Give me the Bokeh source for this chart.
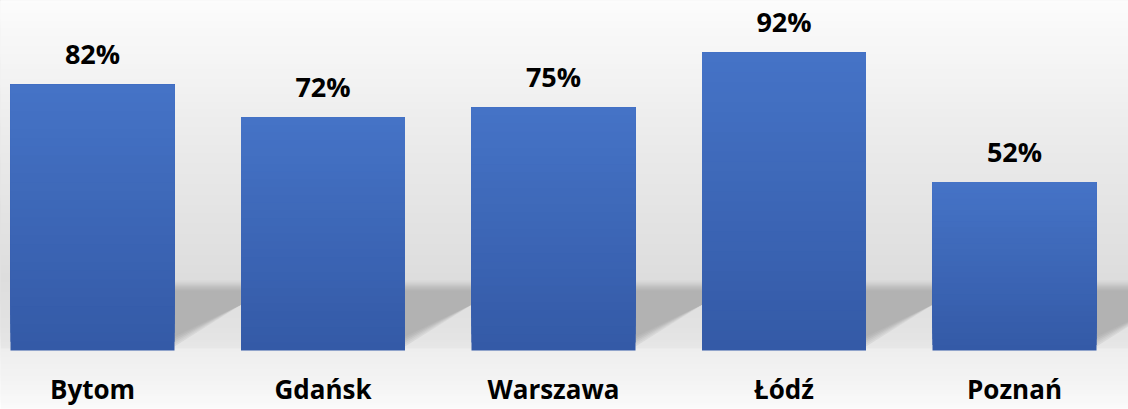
import numpy as np
from bokeh.plotting import figure
from bokeh.models import ColumnDataSource, Range1d
from bokeh.core.properties import value
from bokeh.embed import file_html
from bokeh.resources import INLINE

cities = ["Bytom", "Gdańsk", "Warszawa", "Łódź", "Poznań"]
shares = [82, 72, 75, 92, 52]
share_labels = ["82%", "72%", "75%", "92%", "52%"]

W, H = 1128, 409
STEP = 230.5          # pixels per category
C0 = 92.0             # pixel centre of first category
PPU = 3.24            # pixels per percent
BASE = 350.0          # pixel row of zero
X0, X1 = -C0 / STEP, (W - C0) / STEP
Y0, Y1 = -(H - BASE) / PPU, BASE / PPU
BAR_W = 164 / STEP

p = figure(width=W, height=H, output_backend="svg", toolbar_location=None,
           x_range=Range1d(X0, X1), y_range=Range1d(Y0, Y1), min_border=0)
p.axis.visible = False
p.grid.visible = False
p.outline_line_color = None
p.background_fill_color = "#ffffff"
p.border_fill_color = "#ffffff"


def hexc(r, g, b):
    return "#%02x%02x%02x" % (int(round(r)), int(round(g)), int(round(b)))


def py_to_y(py):
    return Y1 - py / H * (Y1 - Y0)


def px_to_x(px):
    return (px - C0) / STEP


# background vertical gradient (pixel row, gray level)
stops_py = [0, 60, 130, 200, 280, 340, 349, 351, 380, 409]
stops_g = [252, 245, 236, 229, 221, 228, 231, 238, 243, 250]
rows = np.arange(408, -1, -3)
bg_bottom, bg_col = [], []
for r in rows:
    g = np.interp(r, stops_py, stops_g)
    bg_bottom.append(py_to_y(r))
    bg_col.append(hexc(g, g, g))
p.quad(left=X0, right=X1, bottom=bg_bottom, top=Y1, fill_color=bg_col,
       line_color=None)

# soft diagonal floor shadows behind each bar
layers = [(9, 216), (7, 208), (5, 199), (3, 190), (1, 183), (-1, 178)]
for e, g in layers:
    sx, sy = [], []
    for i in range(len(shares)):
        R = C0 + STEP * i + 82  # right edge of bar i in pixels
        pts = [(R - 20, 289 - e), (R + 95 + e, 289 - e), (R + 95 + e, 290 - e),
               (R, 337 + e), (R - 20, 337 + e)]
        sx.append([px_to_x(a) for a, b in pts])
        sy.append([py_to_y(b) for a, b in pts])
    p.patches(xs=sx, ys=sy, fill_color=hexc(g, g, g), line_color=None)

# bars with vertical gradient
n = 30
c_bot = np.array([0x34, 0x5a, 0xa7])
c_top = np.array([0x45, 0x73, 0xc6])
bx, bb, bt, bc = [], [], [], []
for j in range(n):
    t = j / (n - 1)
    col = c_bot + (c_top - c_bot) * t
    for i, v in enumerate(shares):
        bx.append(i)
        bb.append(v * j / n)
        bt.append(v)
        bc.append(hexc(*col))
p.vbar(x=bx, bottom=bb, top=bt, width=BAR_W, fill_color=bc, line_color=None)

xs = list(range(len(cities)))
src = ColumnDataSource(dict(x=xs, y=shares, lab=share_labels, city=cities,
                            zero=[0] * len(cities)))
p.text(x="x", y="y", text="lab", source=src, text_align="center",
       text_baseline="alphabetic", y_offset=-31, text_font=value("Open Sans"),
       text_font_style="bold", text_font_size="27px", text_color="#000000")
p.text(x="x", y="zero", text="city", source=src, text_align="center",
       text_baseline="alphabetic", y_offset=38, text_font=value("Open Sans"),
       text_font_style="bold", text_font_size="26px", text_color="#000000")

open("out.html", "w").write(file_html(p, INLINE))
